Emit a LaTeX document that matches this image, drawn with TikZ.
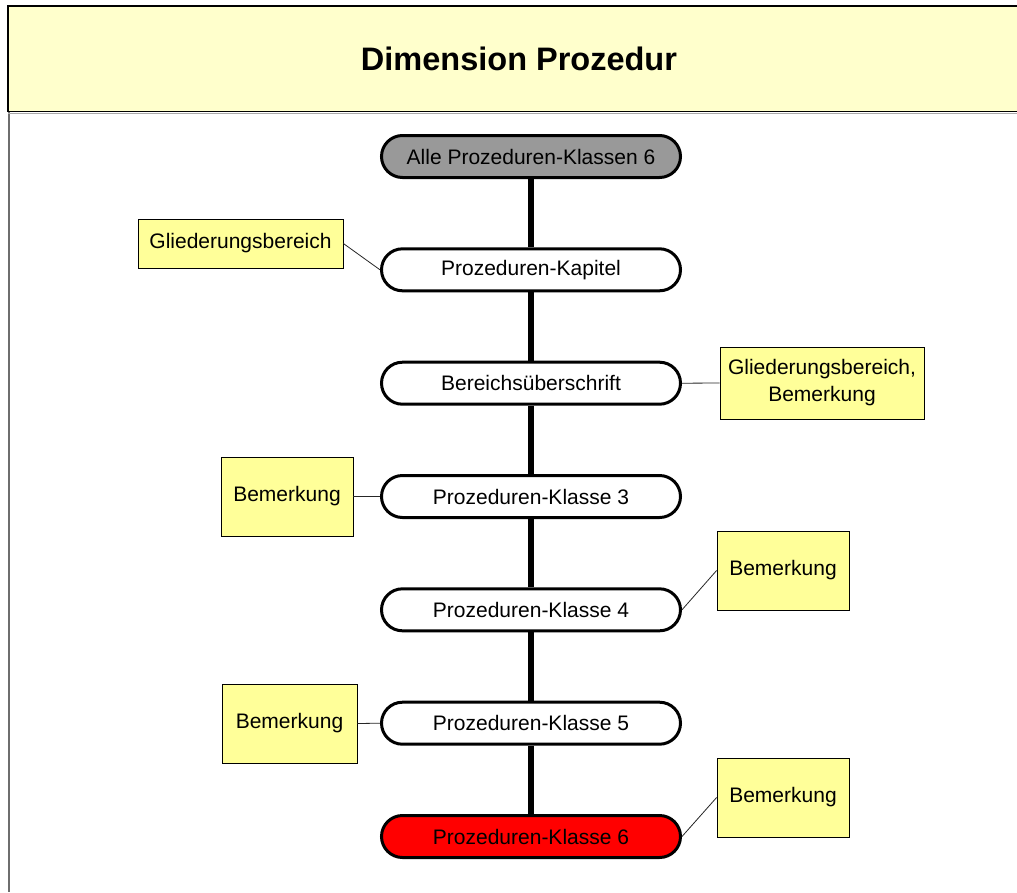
\documentclass[tikz,border=0pt]{standalone}
\usepackage{fontspec}
\setmainfont{Liberation Sans}
\definecolor{headeryellow}{RGB}{255,255,204}
\definecolor{noteyellow}{RGB}{255,255,153}
\definecolor{stagegray}{RGB}{153,153,153}
\definecolor{stagered}{RGB}{255,0,0}
\definecolor{framegray}{RGB}{110,110,110}
\definecolor{shadowgray}{RGB}{170,170,170}
\begin{document}
\begin{tikzpicture}[x=1pt,y=-1pt,
  stage/.style={draw=black, line width=3pt, rounded corners=21pt,
    minimum width=299pt, minimum height=42pt, inner sep=0pt,
    fill=white, font=\fontsize{21}{25}\selectfont},
  remark/.style={draw=black, line width=0.8pt, fill=noteyellow,
    inner sep=0pt, align=center, font=\fontsize{21}{27}\selectfont},
  trunk/.style={line width=6pt},
  leader/.style={line width=0.8pt, draw=black!85}]
\useasboundingbox (0,0) rectangle (1017,892);

% page frame and title bar (the frame runs on past the right and bottom edges)
\fill[white] (0,0) rectangle (1017,892);
\draw[framegray, line width=2pt] (8.5,6) -- (8.5,892);
\draw[shadowgray, line width=1.5pt] (8,113.5) -- (1017,113.5);
\fill[headeryellow] (8,6) rectangle (1017,111.5);
\draw[black, line width=1.5pt] (8,111.5) -- (8,6) -- (1017,6);
\draw[black, line width=1.5pt] (8,111.5) -- (1017,111.5);
\node (title) at (519,59) {\bfseries\fontsize{32.5}{38}\selectfont Dimension Prozedur};

% hierarchy levels
\node[stage, fill=stagegray] (all) at (531,156.5) {Alle Prozeduren-Klassen 6};
\node[stage] (kap)  at (531,269.8) {Prozeduren-Kapitel};
\node[stage] (ber)  at (531,383.2) {Bereichsüberschrift};
\node[stage] (k3)   at (531,496.5) {Prozeduren-Klasse 3};
\node[stage] (k4)   at (531,609.8) {Prozeduren-Klasse 4};
\node[stage] (k5)   at (531,723.2) {Prozeduren-Klasse 5};
\node[stage, fill=stagered] (k6) at (531,836.5) {Prozeduren-Klasse 6};

% roll-up path
\draw[trunk] (all.south) -- (kap.north);
\draw[trunk] (kap.south) -- (ber.north);
\draw[trunk] (ber.south) -- (k3.north);
\draw[trunk] (k3.south) -- (k4.north);
\draw[trunk] (k4.south) -- (k5.north);
\draw[trunk] (k5.south) -- (k6.north);

% attribute notes
\node[remark, minimum width=205pt, minimum height=49pt] (n1) at (240.5,243.5) {Gliederungsbereich};
\node[remark, minimum width=204pt, minimum height=72pt] (n2) at (822,383) {Gliederungsbereich,\\Bemerkung};
\node[remark, minimum width=132pt, minimum height=79pt] (n3) at (287,496.5) {Bemerkung};
\node[remark, minimum width=132pt, minimum height=79pt] (n4) at (783,570.5) {Bemerkung};
\node[remark, minimum width=135pt, minimum height=79pt] (n5) at (289.5,723.5) {Bemerkung};
\node[remark, minimum width=132pt, minimum height=79pt] (n6) at (783,797.5) {Bemerkung};

\draw[leader] (n1.east) -- (kap.west);
\draw[leader] (n2.west) -- (ber.east);
\draw[leader] (n3.east) -- (k3.west);
\draw[leader] (n4.west) -- (k4.east);
\draw[leader] (n5.east) -- (k5.west);
\draw[leader] (n6.west) -- (k6.east);
\end{tikzpicture}
\end{document}
